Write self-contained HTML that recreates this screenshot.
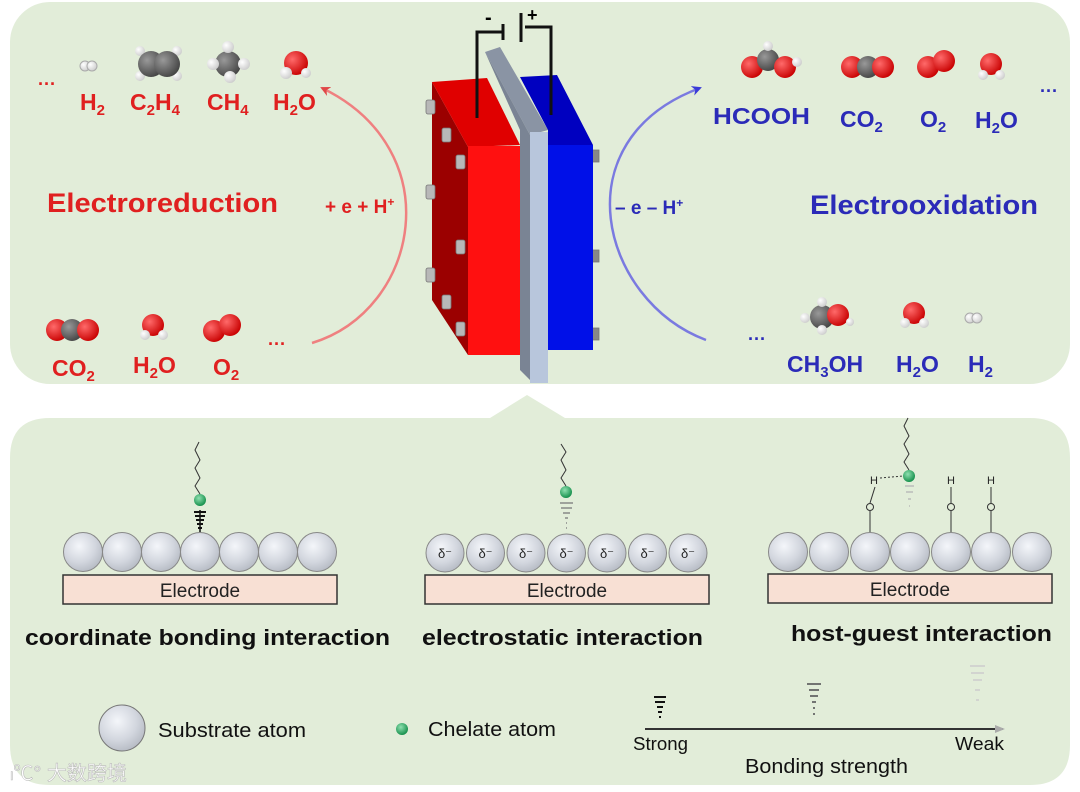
<!DOCTYPE html>
<html><head><meta charset="utf-8"><style>
html,body{margin:0;padding:0;background:#fff;}
svg{display:block;font-family:"Liberation Sans",Arial,sans-serif;}
</style></head><body>
<svg width="1080" height="792" viewBox="0 0 1080 792" xmlns="http://www.w3.org/2000/svg">
<defs>
<radialGradient id="sub" cx="0.4" cy="0.35" r="0.7">
<stop offset="0" stop-color="#f4f6fa"/><stop offset="0.6" stop-color="#d2d6de"/><stop offset="1" stop-color="#b4b9c2"/>
</radialGradient>
<radialGradient id="grn" cx="0.4" cy="0.35" r="0.7"><stop offset="0" stop-color="#8fe0b0"/><stop offset="1" stop-color="#0d8a45"/></radialGradient>
<radialGradient id="ox" cx="0.35" cy="0.35" r="0.7"><stop offset="0" stop-color="#ff6a6a"/><stop offset="1" stop-color="#c80000"/></radialGradient>
<radialGradient id="cb" cx="0.35" cy="0.35" r="0.7"><stop offset="0" stop-color="#999"/><stop offset="1" stop-color="#444"/></radialGradient>
<radialGradient id="hy" cx="0.35" cy="0.35" r="0.7"><stop offset="0" stop-color="#fff"/><stop offset="1" stop-color="#ccc"/></radialGradient>
<marker id="ar" markerWidth="12" markerHeight="12" refX="8" refY="5" orient="auto" markerUnits="userSpaceOnUse"><path d="M0,0 L10,5 L0,10 L3,5z" fill="#e04848"/></marker>
<marker id="ab" markerWidth="12" markerHeight="12" refX="8" refY="5" orient="auto" markerUnits="userSpaceOnUse"><path d="M0,0 L10,5 L0,10 L3,5z" fill="#3a3ad8"/></marker>
<marker id="ag" markerWidth="12" markerHeight="12" refX="8" refY="5" orient="auto" markerUnits="userSpaceOnUse"><path d="M0,1 L10,5 L0,9z" fill="#aaa"/></marker>
</defs>
<rect x="10" y="2" width="1060" height="382" rx="40" fill="#e2edd9"/>
<path d="M50,418 L490,418 L527,395 L565,418 L1030,418 Q1070,418 1070,458 L1070,745 Q1070,785 1030,785 L50,785 Q10,785 10,745 L10,458 Q10,418 50,418z" fill="#e2edd9"/>

<path d="M312,343 C420,310 450,150 322,88" fill="none" stroke="#ef8080" stroke-width="2.5" marker-end="url(#ar)"/>
<path d="M706,340 C600,300 560,140 700,88" fill="none" stroke="#7a7ae0" stroke-width="2.5" marker-end="url(#ab)"/>

<polygon points="432,82 468,147 468,355 432,300" fill="#9b0000"/>
<polygon points="432,82 487,78 520,145 468,147" fill="#e00000"/>
<rect x="468" y="146" width="53" height="209" fill="#ff1010"/>
<g fill="#b8b8b8" stroke="#777" stroke-width="0.8">
<rect x="426" y="100" width="9" height="14" rx="2"/><rect x="442" y="128" width="9" height="14" rx="2"/><rect x="456" y="155" width="9" height="14" rx="2"/>
<rect x="426" y="185" width="9" height="14" rx="2"/><rect x="456" y="240" width="9" height="14" rx="2"/><rect x="426" y="268" width="9" height="14" rx="2"/>
<rect x="442" y="295" width="9" height="14" rx="2"/><rect x="456" y="322" width="9" height="14" rx="2"/>
<rect x="591" y="150" width="8" height="12" fill="#888"/><rect x="591" y="250" width="8" height="12" fill="#888"/><rect x="591" y="328" width="8" height="12" fill="#888"/>
</g>
<polygon points="485,52 500,47 548,130 530,135" fill="#8a94a4"/>
<polygon points="485,52 530,135 530,380 520,370 520,130" fill="#7a8494"/>
<rect x="530" y="132" width="18" height="251" fill="#b8c6dc"/>
<polygon points="520,77 557,75 593,145 548,145 548,130" fill="#0000c0"/>
<rect x="548" y="145" width="45" height="205" fill="#0010e8"/>
<g stroke="#111" stroke-width="3" fill="none">
<polyline points="477,118 477,32 503,32"/><line x1="503" y1="24" x2="503" y2="40"/>
<polyline points="551,115 551,27 525,27"/><line x1="521" y1="13" x2="521" y2="42"/>
</g>
<text x="485" y="24" font-size="20" font-weight="bold">-</text>
<text x="527" y="21" font-size="18" font-weight="bold">+</text>

<g>
<circle cx="85" cy="66" r="5" fill="url(#hy)" stroke="#aaa"/><circle cx="92" cy="66" r="5" fill="url(#hy)" stroke="#aaa"/>
<circle cx="140" cy="51" r="5" fill="url(#hy)"/><circle cx="177" cy="51" r="5" fill="url(#hy)"/><circle cx="140" cy="76" r="5" fill="url(#hy)"/><circle cx="177" cy="76" r="5" fill="url(#hy)"/>
<circle cx="151" cy="64" r="13" fill="url(#cb)"/><circle cx="167" cy="64" r="13" fill="url(#cb)"/>
<circle cx="228" cy="64" r="13" fill="url(#cb)"/><circle cx="228" cy="47" r="6" fill="url(#hy)"/><circle cx="213" cy="64" r="6" fill="url(#hy)"/><circle cx="244" cy="64" r="6" fill="url(#hy)"/><circle cx="230" cy="77" r="6" fill="url(#hy)"/>
<circle cx="296" cy="63" r="12" fill="url(#ox)"/><circle cx="286" cy="73" r="6" fill="url(#hy)"/><circle cx="306" cy="73" r="5" fill="url(#hy)"/>
</g>
<g fill="#e02020" font-weight="bold" font-size="23">
<text x="38" y="90" font-size="18">···</text>
<text x="80" y="110">H<tspan font-size="15" dy="5">2</tspan></text>
<text x="130" y="110">C<tspan font-size="15" dy="5">2</tspan><tspan dy="-5">H</tspan><tspan font-size="15" dy="5">4</tspan></text>
<text x="207" y="110">CH<tspan font-size="15" dy="5">4</tspan></text>
<text x="273" y="110">H<tspan font-size="15" dy="5">2</tspan><tspan dy="-5">O</tspan></text>
<text x="47" y="212" font-size="27" textLength="231" lengthAdjust="spacingAndGlyphs">Electroreduction</text>
<text x="325" y="213" font-size="19">+ e + H<tspan font-size="12" dy="-7">+</tspan></text>
<text x="52" y="376">CO<tspan font-size="15" dy="5">2</tspan></text>
<text x="133" y="373">H<tspan font-size="15" dy="5">2</tspan><tspan dy="-5">O</tspan></text>
<text x="213" y="375">O<tspan font-size="15" dy="5">2</tspan></text>
<text x="268" y="350" font-size="18">···</text>
</g>
<circle cx="57" cy="330" r="11" fill="url(#ox)"/><circle cx="72" cy="330" r="11" fill="url(#cb)"/><circle cx="88" cy="330" r="11" fill="url(#ox)"/>
<circle cx="153" cy="325" r="11" fill="url(#ox)"/><circle cx="145" cy="335" r="5" fill="url(#hy)"/><circle cx="163" cy="335" r="5" fill="url(#hy)"/>
<circle cx="214" cy="331" r="11" fill="url(#ox)"/><circle cx="230" cy="325" r="11" fill="url(#ox)"/>

<circle cx="752" cy="67" r="11" fill="url(#ox)"/><circle cx="768" cy="60" r="11" fill="url(#cb)"/><circle cx="785" cy="67" r="11" fill="url(#ox)"/><circle cx="768" cy="46" r="5" fill="url(#hy)"/><circle cx="797" cy="62" r="5" fill="url(#hy)"/>
<circle cx="852" cy="67" r="11" fill="url(#ox)"/><circle cx="868" cy="67" r="11" fill="url(#cb)"/><circle cx="883" cy="67" r="11" fill="url(#ox)"/>
<circle cx="928" cy="67" r="11" fill="url(#ox)"/><circle cx="944" cy="61" r="11" fill="url(#ox)"/>
<circle cx="991" cy="64" r="11" fill="url(#ox)"/><circle cx="983" cy="75" r="5" fill="url(#hy)"/><circle cx="1000" cy="75" r="5" fill="url(#hy)"/>
<circle cx="822" cy="317" r="12" fill="url(#cb)"/><circle cx="838" cy="315" r="11" fill="url(#ox)"/><circle cx="822" cy="302" r="5" fill="url(#hy)"/><circle cx="805" cy="318" r="5" fill="url(#hy)"/><circle cx="822" cy="330" r="5" fill="url(#hy)"/><circle cx="850" cy="322" r="4" fill="url(#hy)"/>
<circle cx="914" cy="313" r="11" fill="url(#ox)"/><circle cx="905" cy="323" r="5" fill="url(#hy)"/><circle cx="924" cy="323" r="5" fill="url(#hy)"/>
<circle cx="970" cy="318" r="5" fill="url(#hy)" stroke="#aaa"/><circle cx="977" cy="318" r="5" fill="url(#hy)" stroke="#aaa"/>
<g fill="#2b2bb8" font-weight="bold" font-size="23">
<text x="713" y="124" textLength="97" lengthAdjust="spacingAndGlyphs">HCOOH</text>
<text x="840" y="127">CO<tspan font-size="15" dy="5">2</tspan></text>
<text x="920" y="127">O<tspan font-size="15" dy="5">2</tspan></text>
<text x="975" y="128">H<tspan font-size="15" dy="5">2</tspan><tspan dy="-5">O</tspan></text>
<text x="1040" y="97" font-size="18">···</text>
<text x="810" y="214" font-size="27" textLength="228" lengthAdjust="spacingAndGlyphs">Electrooxidation</text>
<text x="615" y="214" font-size="19">– e – H<tspan font-size="12" dy="-7">+</tspan></text>
<text x="748" y="345" font-size="18">···</text>
<text x="787" y="372">CH<tspan font-size="15" dy="5">3</tspan><tspan dy="-5">OH</tspan></text>
<text x="896" y="372">H<tspan font-size="15" dy="5">2</tspan><tspan dy="-5">O</tspan></text>
<text x="968" y="372">H<tspan font-size="15" dy="5">2</tspan></text>
</g>

<rect x="63" y="575" width="274" height="29" fill="#f8e0d4" stroke="#333" stroke-width="1.5"/>
<text x="200" y="597" font-size="19" text-anchor="middle" fill="#222">Electrode</text>
<g stroke="#888" stroke-width="1" fill="url(#sub)">
<circle cx="83" cy="552" r="19.5"/><circle cx="122" cy="552" r="19.5"/><circle cx="161" cy="552" r="19.5"/><circle cx="200" cy="552" r="19.5"/><circle cx="239" cy="552" r="19.5"/><circle cx="278" cy="552" r="19.5"/><circle cx="317" cy="552" r="19.5"/>
</g>
<path d="M200,532 L200,510" stroke="#111" stroke-width="1.5"/>
<g stroke="#111" stroke-width="2"><line x1="194" y1="512" x2="206" y2="512"/><line x1="195" y1="516" x2="205" y2="516"/><line x1="196" y1="520" x2="204" y2="520"/><line x1="197" y1="524" x2="203" y2="524"/><line x1="198" y1="528" x2="202" y2="528"/></g>
<circle cx="200" cy="500" r="6" fill="url(#grn)"/>
<path d="M200,494 L195,486 L200,478 L195,468 L200,460 L195,450 L199,442" fill="none" stroke="#333" stroke-width="1"/>
<text x="25" y="645" font-size="22" font-weight="bold" fill="#111" textLength="365" lengthAdjust="spacingAndGlyphs">coordinate bonding interaction</text>

<rect x="425" y="575" width="284" height="29" fill="#f8e0d4" stroke="#333" stroke-width="1.5"/>
<text x="567" y="597" font-size="19" text-anchor="middle" fill="#222">Electrode</text>
<g stroke="#888" stroke-width="1" fill="url(#sub)">
<circle cx="445" cy="553" r="19"/><circle cx="485.5" cy="553" r="19"/><circle cx="526" cy="553" r="19"/><circle cx="566.5" cy="553" r="19"/><circle cx="607" cy="553" r="19"/><circle cx="647.5" cy="553" r="19"/><circle cx="688" cy="553" r="19"/>
</g>
<g font-size="13" fill="#222" text-anchor="middle">
<text x="445" y="558">δ⁻</text><text x="485.5" y="558">δ⁻</text><text x="526" y="558">δ⁻</text><text x="566.5" y="558">δ⁻</text><text x="607" y="558">δ⁻</text><text x="647.5" y="558">δ⁻</text><text x="688" y="558">δ⁻</text>
</g>
<g stroke="#888" stroke-width="1.5"><line x1="560" y1="503" x2="573" y2="503"/><line x1="561" y1="508" x2="572" y2="508"/><line x1="563" y1="513" x2="570" y2="513"/><line x1="565" y1="518" x2="568" y2="518"/><line x1="566" y1="523" x2="567" y2="523"/><line x1="566" y1="528" x2="567" y2="528"/></g>
<circle cx="566" cy="492" r="6" fill="url(#grn)"/>
<path d="M566,486 L561,478 L566,470 L561,460 L566,452 L561,444" fill="none" stroke="#333" stroke-width="1"/>
<text x="422" y="645" font-size="22" font-weight="bold" fill="#111" textLength="281" lengthAdjust="spacingAndGlyphs">electrostatic interaction</text>

<rect x="768" y="574" width="284" height="29" fill="#f8e0d4" stroke="#333" stroke-width="1.5"/>
<text x="910" y="596" font-size="19" text-anchor="middle" fill="#222">Electrode</text>
<g stroke="#888" stroke-width="1" fill="url(#sub)">
<circle cx="788" cy="552" r="19.5"/><circle cx="829" cy="552" r="19.5"/><circle cx="870" cy="552" r="19.5"/><circle cx="910" cy="552" r="19.5"/><circle cx="951" cy="552" r="19.5"/><circle cx="991" cy="552" r="19.5"/><circle cx="1032" cy="552" r="19.5"/>
</g>
<g stroke="#333" stroke-width="1" fill="none">
<line x1="870" y1="532" x2="870" y2="511"/><circle cx="870" cy="507" r="3.5"/><line x1="870" y1="503" x2="875" y2="487"/>
<line x1="951" y1="532" x2="951" y2="511"/><circle cx="951" cy="507" r="3.5"/><line x1="951" y1="503" x2="951" y2="487"/>
<line x1="991" y1="532" x2="991" y2="511"/><circle cx="991" cy="507" r="3.5"/><line x1="991" y1="503" x2="991" y2="487"/>
<line x1="880" y1="478" x2="903" y2="476" stroke-dasharray="2,2"/>
<path d="M909,470 L904,462 L909,454 L904,444 L909,436 L904,426 L908,418"/>
</g>
<g font-size="11" fill="#222" text-anchor="middle"><text x="874" y="484">H</text><text x="951" y="484">H</text><text x="991" y="484">H</text></g>
<g stroke="#bbb" stroke-width="1.5"><line x1="905" y1="486" x2="914" y2="486"/><line x1="906" y1="492" x2="913" y2="492"/><line x1="908" y1="499" x2="911" y2="499"/><line x1="909" y1="506" x2="910" y2="506"/></g>
<circle cx="909" cy="476" r="6" fill="url(#grn)"/>
<text x="791" y="641" font-size="22" font-weight="bold" fill="#111" textLength="261" lengthAdjust="spacingAndGlyphs">host-guest interaction</text>

<circle cx="122" cy="728" r="23" fill="url(#sub)" stroke="#777"/>
<text x="158" y="737" font-size="20" fill="#111" textLength="148" lengthAdjust="spacingAndGlyphs">Substrate atom</text>
<circle cx="402" cy="729" r="6" fill="url(#grn)"/>
<text x="428" y="736" font-size="20" fill="#111" textLength="128" lengthAdjust="spacingAndGlyphs">Chelate atom</text>
<line x1="645" y1="729" x2="1003" y2="729" stroke="#333" stroke-width="2" marker-end="url(#ag)"/>
<g stroke="#111" stroke-width="2"><line x1="654" y1="697" x2="666" y2="697"/><line x1="655" y1="702" x2="665" y2="702"/><line x1="657" y1="707" x2="663" y2="707"/><line x1="658" y1="712" x2="662" y2="712"/><line x1="659" y1="717" x2="661" y2="717"/></g>
<g stroke="#666" stroke-width="1.8"><line x1="807" y1="684" x2="821" y2="684"/><line x1="809" y1="690" x2="819" y2="690"/><line x1="810" y1="696" x2="818" y2="696"/><line x1="812" y1="702" x2="816" y2="702"/><line x1="813" y1="708" x2="815" y2="708"/><line x1="813" y1="714" x2="815" y2="714"/></g>
<g stroke="#ccc" stroke-width="1.5"><line x1="970" y1="666" x2="985" y2="666"/><line x1="971" y1="673" x2="984" y2="673"/><line x1="973" y1="680" x2="982" y2="680"/><line x1="975" y1="690" x2="980" y2="690"/><line x1="976" y1="700" x2="979" y2="700"/></g>
<text x="633" y="750" font-size="18" fill="#111" textLength="55" lengthAdjust="spacingAndGlyphs">Strong</text>
<text x="955" y="750" font-size="18" fill="#111" textLength="49" lengthAdjust="spacingAndGlyphs">Weak</text>
<text x="745" y="773" font-size="20" fill="#111" textLength="163" lengthAdjust="spacingAndGlyphs">Bonding strength</text>

<text x="10" y="780" font-size="20" fill="#fff" stroke="#bbb" stroke-width="0.6" font-family="'Liberation Sans','Noto Sans CJK SC',sans-serif">ₗ℃° 大数跨境</text>
</svg>
</body></html>
